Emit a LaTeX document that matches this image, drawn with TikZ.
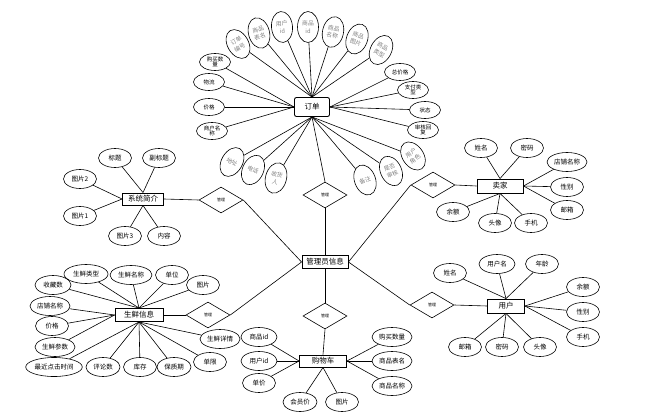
\documentclass[tikz,border=0pt]{standalone}
\usepackage{fontspec}
\setmainfont{Noto Sans CJK SC}
\usetikzlibrary{shapes.geometric}
\begin{document}
\begin{tikzpicture}[x=1pt,y=-1pt,line width=0.6pt,
  attr/.style={draw,ellipse,minimum width=33pt,minimum height=19pt,inner sep=0.5pt,align=center,font=\fontsize{6.5}{7}\selectfont},
  rattr/.style={draw,ellipse,minimum width=21pt,minimum height=31pt,inner sep=0pt,align=center,text=gray,font=\fontsize{5.8}{7.5}\selectfont},
  sattr/.style={draw,ellipse,minimum width=31pt,minimum height=17pt,inner sep=0.5pt,align=center,font=\fontsize{5.5}{5.5}\selectfont},
  ent/.style={draw,rectangle,line width=0.9pt,inner sep=1pt,font=\fontsize{7.5}{8}\selectfont},
  rel/.style={draw,diamond,minimum width=44pt,minimum height=26pt,inner sep=0pt,font=\fontsize{4}{5}\selectfont}]
\useasboundingbox (0,0) rectangle (652,417);
% entities
\node[ent,rounded corners=2pt,minimum width=35pt,minimum height=19pt] (dd) at (312,107) {订单};
\node[ent,minimum width=46pt,minimum height=13pt] (gl) at (325,262) {管理员信息};
\node[ent,minimum width=41pt,minimum height=12pt] (xt) at (143,199) {系统简介};
\node[ent,minimum width=46pt,minimum height=14pt] (mj) at (500,186) {卖家};
\node[ent,minimum width=48pt,minimum height=13pt] (sx) at (139,315) {生鲜信息};
\node[ent,minimum width=47pt,minimum height=12pt] (gw) at (323,361) {购物车};
\node[ent,minimum width=37pt,minimum height=14pt] (yh) at (506,306) {用户};
% relations
\node[rel] (r0) at (325,195) {管理};
\node[rel] (r1) at (221,200) {管理};
\node[rel] (r2) at (433,185) {管理};
\node[rel] (r3) at (208,315) {管理};
\node[rel] (r4) at (325,316) {管理};
\node[rel] (r5) at (432,305) {管理};
\draw (dd.south) -- (r0.north);
\draw (r0.south) -- (gl.north);
\draw (xt.east) -- (r1.west);
\draw (r1.east) -- (gl.west);
\draw (sx.east) -- (r3.west);
\draw (r3.east) -- (gl.west);
\draw (r2.west) -- (gl.east);
\draw (r2.east) -- (mj.west);
\draw (r5.west) -- (gl.east);
\draw (r5.east) -- (yh.west);
\draw (gl.south) -- (r4.north);
\draw (r4.south) -- (gw.north);
% 订单 attributes
\node[rattr,rotate=30] (d1) at (238,44) {订单\\编号};
\node[rattr,rotate=15] (d2) at (259,33) {商品\\表名};
\node[rattr,rotate=5] (d3) at (282,27) {用户\\id};
\node[rattr] (d4) at (308,27) {商品\\id};
\node[rattr,rotate=-12] (d5) at (333,32) {商品\\名称};
\node[rattr,rotate=-20] (d6) at (357,39) {商品\\图片};
\node[rattr,rotate=-28] (d7) at (381,50) {商品\\类型};
\foreach \n in {d1,d2,d3,d4,d5,d6,d7} \draw (\n) -- (dd.north);
\node[sattr] (d8) at (215,62) {购买数\\量};
\node[sattr] (d9) at (209,82) {物流};
\node[sattr] (d10) at (209,107) {价格};
\node[sattr] (d11) at (212,131) {商户名\\称};
\foreach \n in {d8,d9,d10,d11} \draw (\n) -- (dd.west);
\node[sattr] (d12) at (400,72) {总价格};
\node[sattr] (d13) at (413,90) {支付类\\型};
\node[sattr] (d14) at (425,110) {状态};
\node[sattr] (d15) at (423,130) {审核回\\复};
\foreach \n in {d12,d13,d14,d15} \draw (\n) -- (dd.east);
\node[rattr,rotate=-30] (d16) at (232,162) {地址};
\node[rattr,rotate=-25] (d17) at (253,170) {电话};
\node[rattr,rotate=-15] (d18) at (276,178) {收货\\人};
\node[rattr,rotate=20] (d19) at (365,180) {备注};
\node[rattr,rotate=25] (d20) at (391,171) {是否\\审核};
\node[rattr,rotate=35] (d21) at (413,156) {用户\\角色};
\foreach \n in {d16,d17,d18,d19,d20,d21} \draw (\n) -- (dd.south);
% 系统简介 attributes
\node[attr] (x1) at (115,158) {标题};
\node[attr] (x2) at (159,158) {副标题};
\node[attr] (x3) at (80,179) {图片2};
\node[attr] (x4) at (80,216) {图片1};
\node[attr] (x5) at (125,236) {图片3};
\node[attr] (x6) at (164,236) {内容};
\draw (x1) -- (xt.north); \draw (x2) -- (xt.north);
\draw (x3) -- (xt.west); \draw (x4) -- (xt.west);
\draw (x5) -- (xt.south); \draw (x6) -- (xt.south);
% 卖家 attributes
\node[attr] (m1) at (481,148) {姓名};
\node[attr] (m2) at (527,148) {密码};
\node[attr,minimum width=40pt] (m3) at (567,162) {店铺名称};
\node[attr] (m4) at (567,187) {性别};
\node[attr] (m5) at (567,210) {邮箱};
\node[attr] (m6) at (453,212) {余额};
\node[attr] (m7) at (495,223) {头像};
\node[attr] (m8) at (531,223) {手机};
\draw (m1) -- (mj.north); \draw (m2) -- (mj.north);
\draw (m3) -- (mj.east); \draw (m4) -- (mj.east); \draw (m5) -- (mj.east);
\draw (m6) -- (mj.south); \draw (m7) -- (mj.south); \draw (m8) -- (mj.south);
% 生鲜信息 attributes
\node[attr,minimum width=44pt] (s1) at (86,274) {生鲜类型};
\node[attr,minimum width=42pt] (s2) at (131,275) {生鲜名称};
\node[attr] (s3) at (172,275) {单位};
\node[attr] (s4) at (203,285) {图片};
\node[attr,minimum width=36pt] (s5) at (53,285) {收藏数};
\node[attr,minimum width=40pt] (s6) at (50,306) {店铺名称};
\node[attr] (s7) at (52,326) {价格};
\node[attr,minimum width=40pt] (s8) at (55,347) {生鲜参数};
\node[attr,minimum width=56pt] (s9) at (54,367) {最近点击时间};
\node[attr,minimum width=34pt] (s10) at (103,367) {评论数};
\node[attr] (s11) at (140,367) {库存};
\node[attr,minimum width=34pt] (s12) at (174,367) {保质期};
\node[attr] (s13) at (210,362) {单限};
\node[attr,minimum width=40pt] (s14) at (220,339) {生鲜详情};
\foreach \n in {s1,s2,s3,s4,s5} \draw (\n) -- (sx.north);
\foreach \n in {s6,s7,s8} \draw (\n) -- (sx.west);
\foreach \n in {s9,s10,s11,s12,s13,s14} \draw (\n) -- (sx.south);
% 购物车 attributes
\node[attr,minimum width=36pt] (g1) at (259,337) {商品id};
\node[attr,minimum width=36pt] (g2) at (259,361) {用户id};
\node[attr] (g3) at (259,383) {单价};
\node[attr,minimum width=34pt] (g4) at (300,402) {会员价};
\node[attr] (g5) at (342,402) {图片};
\node[attr,minimum width=40pt] (g6) at (392,337) {购买数量};
\node[attr,minimum width=40pt] (g7) at (392,361) {商品表名};
\node[attr,minimum width=40pt] (g8) at (392,386) {商品名称};
\foreach \n in {g1,g2,g3} \draw (\n) -- (gw.west);
\foreach \n in {g4,g5} \draw (\n) -- (gw.south);
\foreach \n in {g6,g7,g8} \draw (\n) -- (gw.east);
% 用户 attributes
\node[attr] (u1) at (450,273) {姓名};
\node[attr,minimum width=36pt] (u2) at (497,264) {用户名};
\node[attr] (u3) at (542,264) {年龄};
\node[attr] (u4) at (583,287) {余额};
\node[attr] (u5) at (583,312) {性别};
\node[attr] (u6) at (583,337) {手机};
\node[attr] (u7) at (465,347) {邮箱};
\node[attr] (u8) at (502,347) {密码};
\node[attr] (u9) at (540,347) {头像};
\foreach \n in {u1,u2,u3} \draw (\n) -- (yh.north);
\foreach \n in {u4,u5,u6} \draw (\n) -- (yh.east);
\foreach \n in {u7,u8,u9} \draw (\n) -- (yh.south);
\end{tikzpicture}
\end{document}
